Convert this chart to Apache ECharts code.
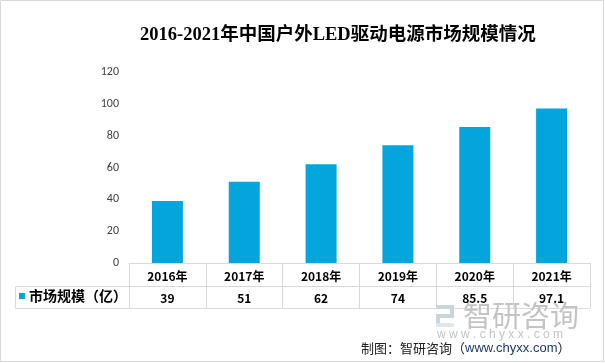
<!DOCTYPE html>
<html>
<head>
<meta charset="utf-8">
<script src="https://cdn.jsdelivr.net/npm/echarts@6/dist/echarts.min.js"></script>
<style>html,body{margin:0;padding:0;background:#fff}#c{width:605px;height:363px}</style>
</head>
<body>
<div id="c"></div>
<script>
const titleText = '2016-2021年中国户外LED驱动电源市场规模情况';
const categories = ['2016年', '2017年', '2018年', '2019年', '2020年', '2021年'];
const seriesName = '市场规模（亿）';
const values = [39, 51, 62, 74, 85.5, 97.1];
const valueLabels = ['39', '51', '62', '74', '85.5', '97.1'];
const yTicks = [0, 20, 40, 60, 80, 100, 120];

const chart = echarts.init(document.getElementById('c'), null, {renderer: 'canvas'});
const lineColor = '#d9d9d9';
const cjk = '"Microsoft YaHei","Noto Sans CJK SC",sans-serif';
chart.setOption({
  animation: false,
  title: {
    text: titleText, left: 135, top: 21,
    textStyle: {fontFamily: '"Liberation Serif","Noto Sans CJK SC",serif', fontSize: 18.5, fontWeight: 'bold', color: '#000'}
  },
  legend: {
    data: [seriesName], left: 19, top: 289, padding: 0, icon: 'rect', itemWidth: 6, itemHeight: 6, itemGap: 4,
    textStyle: {fontFamily: cjk, fontSize: 14, fontWeight: 'bold', color: '#000', padding: [0, 0, 0, -1]}
  },
  grid: {left: 129, right: 15, top: 72, bottom: 100, containLabel: false},
  xAxis: [{
    type: 'category', data: categories, position: 'bottom',
    axisLine: {show: true, lineStyle: {color: lineColor}},
    axisTick: {show: true, length: 45, lineStyle: {color: lineColor}},
    axisLabel: {margin: 7, fontFamily: cjk, fontSize: 12, fontWeight: 'bold', color: '#000'}
  }, {
    type: 'category', data: categories, position: 'bottom', offset: 23,
    axisLine: {show: true, lineStyle: {color: lineColor}},
    axisTick: {show: false},
    axisLabel: {margin: 6, fontFamily: cjk, fontSize: 12, fontWeight: 'bold', color: '#000',
      formatter: (v, i) => valueLabels[i]}
  }],
  yAxis: {
    type: 'value', min: yTicks[0], max: yTicks[yTicks.length - 1], interval: 20,
    axisLine: {show: false}, axisTick: {show: false}, splitLine: {show: false},
    axisLabel: {margin: 10, fontFamily: 'Calibri,"Liberation Sans",sans-serif', fontSize: 12, color: '#404040'}
  },
  series: [{
    name: seriesName, type: 'bar', data: values, barWidth: 31, xAxisIndex: 0,
    itemStyle: {color: '#02a6dd'}
  }],
  graphic: [
    {type: 'rect', silent: true, shape: {x: 0.5, y: 0.5, width: 603, height: 361}, style: {fill: 'none', stroke: '#d9d9d9'}},
    {type: 'line', silent: true, shape: {x1: 15.5, y1: 286.5, x2: 129, y2: 286.5}, style: {stroke: lineColor}},
    {type: 'line', silent: true, shape: {x1: 15.5, y1: 308.5, x2: 590, y2: 308.5}, style: {stroke: lineColor}},
    {type: 'line', silent: true, shape: {x1: 15.5, y1: 286.5, x2: 15.5, y2: 308.5}, style: {stroke: lineColor}},
    // watermark logo
    {type: 'rect', silent: true, shape: {x: 436, y: 305, width: 18, height: 4}, style: {fill: '#c9d4e0'}},
    {type: 'rect', silent: true, shape: {x: 450, y: 305, width: 4, height: 12}, style: {fill: '#c9d4e0'}},
    {type: 'rect', silent: true, shape: {x: 436, y: 314, width: 18, height: 4}, style: {fill: '#c9d4e0'}},
    {type: 'rect', silent: true, shape: {x: 436, y: 314, width: 4, height: 13}, style: {fill: '#c9d4e0'}},
    {type: 'rect', silent: true, shape: {x: 436, y: 323, width: 18, height: 4}, style: {fill: '#dfe6ee'}},
    {type: 'text', silent: true, style: {text: '智研咨询', x: 463, y: 301, fontSize: 29, fontFamily: cjk, fill: '#c4c4c4'}},
    {type: 'text', silent: true, style: {text: 'w w w . c h y x x . c o m', x: 437, y: 329, fontSize: 12, fontFamily: '"Liberation Sans",sans-serif', fill: '#c4c4c4'}},
    {type: 'text', silent: true, style: {
      text: '{a|制图：智研咨询（}{b|www.chyxx.com}{a|）}', x: 361, y: 342,
      rich: {
        a: {fontSize: 13, fontFamily: cjk, fill: '#222'},
        b: {fontSize: 13, fontFamily: '"Liberation Sans",sans-serif', fill: '#1f3a6e'}
      }
    }}
  ]
});
</script>
</body>
</html>
